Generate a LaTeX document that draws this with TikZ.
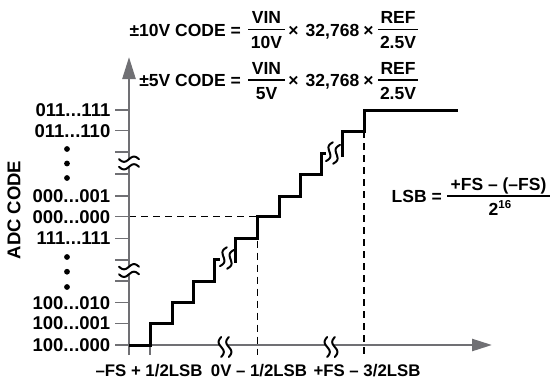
\documentclass[tikz,border=0pt]{standalone}
\usepackage{fontspec}
\setmainfont{Liberation Sans}
\usetikzlibrary{arrows.meta}
\definecolor{axgray}{RGB}{112,112,116}
\newcommand{\tdts}{.\kern0.3pt.\kern0.3pt.}
\tikzset{
  txt/.style={font=\fontsize{17.5}{20}\selectfont\bfseries, inner sep=0pt},
  ytxt/.style={font=\fontsize{18.5}{20}\selectfont\bfseries, inner sep=0pt},
  xtxt/.style={font=\fontsize{16.8}{20}\selectfont\bfseries, inner sep=0pt},
  axis/.style={draw=axgray, line width=2.5pt},
  tick/.style={draw=axgray, line width=1.5pt},
  stair/.style={draw=black, line width=3pt, line join=miter},
  dsh/.style={draw=black, line width=1.3pt, dash pattern=on 7pt off 5pt},
  fbar/.style={draw=black, line width=1.3pt},
  wig/.pic={
    \fill[white] plot[domain=-1:1,samples=25] ({-3.8+2.6*sin(180*\x)},{10*\x}) -- plot[domain=1:-1,samples=25] ({3.8+2.6*sin(180*\x)},{10*\x}) -- cycle;
    \draw[line width=2pt, line cap=round] plot[domain=-1:1,samples=25,smooth] ({-3.8+2.6*sin(180*\x)},{10*\x});
    \draw[line width=2pt, line cap=round] plot[domain=-1:1,samples=25,smooth] ({3.8+2.6*sin(180*\x)},{10*\x});
  }
}
\begin{document}
\begin{tikzpicture}[x=1pt,y=-1pt]
\useasboundingbox (0,0) rectangle (556,383);

% formulas
\node[txt, anchor=base east] (c1) at (241,36) {±10V CODE =};
\node[txt, anchor=base] (n1) at (266.5,23.5) {VIN};
\node[txt, anchor=base] (d1) at (266.5,48.5) {10V};
\draw[fbar] (248,29.5) -- (285,29.5);
\node[txt, anchor=base] (m1) at (293.5,36) {×};
\node[txt, anchor=base] (k1) at (332.5,36) {32,768};
\node[txt, anchor=base] (m2) at (368.5,36) {×};
\node[txt, anchor=base] (r1) at (398,23.5) {REF};
\node[txt, anchor=base] (v1) at (398,48.5) {2.5V};
\draw[fbar] (378,29.5) -- (418,29.5);

\node[txt, anchor=base east] (c2) at (241,86.5) {±5V CODE =};
\node[txt, anchor=base] (n2) at (266.5,74) {VIN};
\node[txt, anchor=base] (d2) at (266.5,99) {5V};
\draw[fbar] (248,80) -- (285,80);
\node[txt, anchor=base] (m3) at (293.5,86.5) {×};
\node[txt, anchor=base] (k2) at (332.5,86.5) {32,768};
\node[txt, anchor=base] (m4) at (368.5,86.5) {×};
\node[txt, anchor=base] (r2) at (398,74) {REF};
\node[txt, anchor=base] (v2) at (398,99) {2.5V};
\draw[fbar] (378,80) -- (418,80);

% LSB formula
\node[txt, anchor=base east] (l1) at (442,202.5) {LSB =};
\node[txt, anchor=base] (l2) at (498.5,190) {+FS – (–FS)};
\node[txt, anchor=base] (l3) at (500,215) {2\raisebox{6.5pt}{\fontsize{11.5}{11}\selectfont\bfseries 16}};
\draw[fbar] (447,196) -- (550,196);

% axis label
\node[ytxt, rotate=90] (yl) at (14,210) {ADC CODE};

% y ticks and labels
\foreach \yy/\lab [count=\i] in {110/{011\tdts 111},130.7/{011\tdts 110},196/{000\tdts 001},216.7/{000\tdts 000},238.3/{111\tdts 111},302.7/{100\tdts 010},323.3/{100\tdts 001},345/{100\tdts 000}}{
  \draw[tick] (115,\yy) -- (129,\yy);
  \node[ytxt, anchor=east] (yt\i) at (110.5,\yy) {\lab};
}
\foreach \yy in {152,174,260,281}{ \draw[tick] (115,\yy) -- (129,\yy); }
\foreach \yy in {149,163.5,178,257,271.7,287}{ \fill (67,\yy) circle (2.9pt); }

% x ticks
\draw[tick] (150,345) -- (150,355);

% dashed guide lines
\draw[dsh] (129,216.7) -- (257.7,216.7);
\draw[dsh] (257.7,216.7) -- (257.7,355);
\draw[dsh] (364,131) -- (364,355);

% axes
\draw[axis, -{Triangle[length=22pt,width=13pt]}] (129,355) -- (129,57);
\draw[axis, -{Triangle[length=20pt,width=12pt]}] (115,345) -- (492,345);

% staircase
\draw[stair] (129,345) -- (150,345) -- (150,323.3) -- (172,323.3) -- (172,302.7) -- (193,302.7) -- (193,281) -- (214,281) -- (214,259.5) -- (220,259.5);
\draw[stair] (235,263) -- (235,238.3) -- (257.7,238.3) -- (257.7,216.7) -- (279,216.7) -- (279,196) -- (300,196) -- (300,174) -- (321.7,174) -- (321.7,153) -- (326,153);
\draw[stair] (342,157) -- (342,131) -- (364,131) -- (364,110.5) -- (458,110.5);

% break symbols
\pic[rotate=90] at (129,163) {wig};
\pic[rotate=90] at (129,270.5) {wig};
\pic at (225,347) {wig};
\pic at (331,347) {wig};
\pic[rotate=-20] at (227,258) {wig};
\pic[rotate=-20] at (333,153) {wig};

% x labels
\node[xtxt, anchor=base] (x1) at (149,376.5) {–FS + 1/2LSB};
\node[xtxt, anchor=base] (x2) at (259,376.5) {0V – 1/2LSB};
\node[xtxt, anchor=base] (x3) at (367,376.5) {+FS – 3/2LSB};
\end{tikzpicture}
\end{document}
